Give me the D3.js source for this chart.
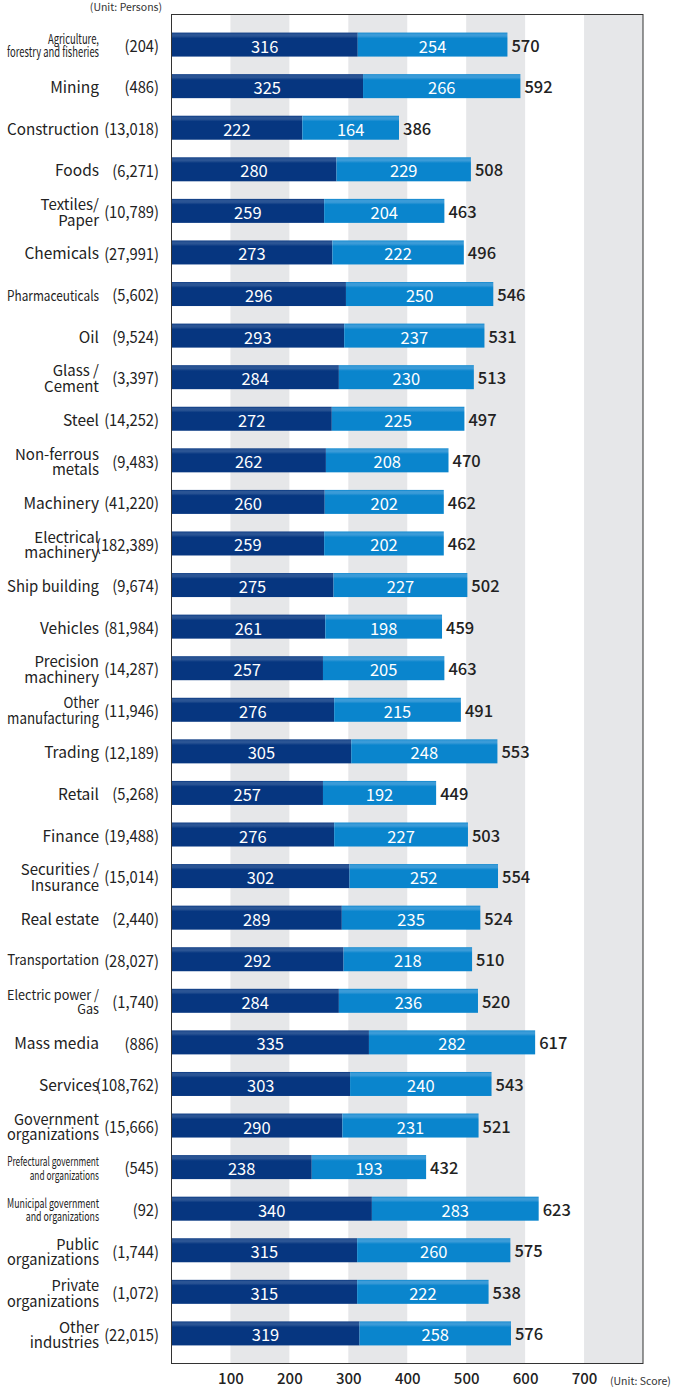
<!DOCTYPE html>
<html><head><meta charset="utf-8">
<script src="https://cdn.jsdelivr.net/npm/d3@7"></script>
<style>
html,body{margin:0;padding:0;background:#fff;}
svg{display:block;}
text{font-family:"Noto Sans CJK JP","Noto Sans",sans-serif;}
</style></head>
<body>
<svg id="chart" width="673" height="1391"></svg>
<script>
const categories = [
 ["Agriculture,","forestry and fisheries"],["Mining"],["Construction"],["Foods"],["Textiles/","Paper"],
 ["Chemicals"],["Pharmaceuticals"],["Oil"],["Glass /","Cement"],["Steel"],["Non-ferrous","metals"],
 ["Machinery"],["Electrical","machinery"],["Ship building"],["Vehicles"],["Precision","machinery"],
 ["Other","manufacturing"],["Trading"],["Retail"],["Finance"],["Securities /","Insurance"],["Real estate"],
 ["Transportation"],["Electric power /","Gas"],["Mass media"],["Services"],["Government","organizations"],
 ["Prefectural government","and organizations"],["Municipal government","and organizations"],
 ["Public","organizations"],["Private","organizations"],["Other","industries"]
];
const counts = ["(204)","(486)","(13,018)","(6,271)","(10,789)","(27,991)","(5,602)","(9,524)","(3,397)","(14,252)",
 "(9,483)","(41,220)","(182,389)","(9,674)","(81,984)","(14,287)","(11,946)","(12,189)","(5,268)","(19,488)",
 "(15,014)","(2,440)","(28,027)","(1,740)","(886)","(108,762)","(15,666)","(545)","(92)","(1,744)","(1,072)","(22,015)"];
const series1 = [316,325,222,280,259,273,296,293,284,272,262,260,259,275,261,257,276,305,257,276,302,289,292,284,335,303,290,238,340,315,315,319];
const series2 = [254,266,164,229,204,222,250,237,230,225,208,202,202,227,198,205,215,248,192,227,252,235,218,236,282,240,231,193,283,260,222,258];
const totals  = [570,592,386,508,463,496,546,531,513,497,470,462,462,502,459,463,491,553,449,503,554,524,510,520,617,543,521,432,623,575,538,576];
const tickValues = [100,200,300,400,500,600,700];
const bandStarts = [100,300,500,700];
// condensed (small-type) labels: index -> font size
const condensed = {0:13.5, 6:14.5, 22:14.5, 23:13.5, 27:12.5, 28:13};

const svg = d3.select("#chart");
const x = d3.scaleLinear().domain([0,800]).range([171.5,643]);
const idx = d3.range(categories.length);
const y = d3.scaleBand().domain(idx).range([14,1364]).paddingInner(0.4228).paddingOuter(0.447);

const defs = svg.append("defs");
function grad(id, top, base){
  const g = defs.append("linearGradient").attr("id",id).attr("x1",0).attr("y1",0).attr("x2",0).attr("y2",1);
  g.append("stop").attr("offset","0%").attr("stop-color",base);
  g.append("stop").attr("offset","6%").attr("stop-color",top);
  g.append("stop").attr("offset","14%").attr("stop-color",top);
  g.append("stop").attr("offset","24%").attr("stop-color",base);
  g.append("stop").attr("offset","100%").attr("stop-color",base);
}
grad("gDark","#2a5494","#063680");
grad("gLight","#3a9bd8","#0a85cd");

// gray bands
svg.append("g").selectAll("rect").data(bandStarts).join("rect")
  .attr("x",d=>x(d)).attr("width",d=>x(d+100)-x(d))
  .attr("y",14).attr("height",1364-14).attr("fill","#e6e7e9");

// bars
const bars = svg.append("g");
bars.selectAll(".s1").data(idx).join("rect").attr("class","s1")
  .attr("x",x(0)).attr("width",i=>x(series1[i])-x(0))
  .attr("y",i=>y(i)).attr("height",y.bandwidth()).attr("fill","url(#gDark)");
bars.selectAll(".s2").data(idx).join("rect").attr("class","s2")
  .attr("x",i=>x(series1[i])).attr("width",i=>x(totals[i])-x(series1[i]))
  .attr("y",i=>y(i)).attr("height",y.bandwidth()).attr("fill","url(#gLight)");

const cy = i => y(i)+y.bandwidth()/2;
const lab = svg.append("g").attr("font-size",16.5).attr("dominant-baseline","central");
lab.selectAll(".v1").data(idx).join("text")
  .attr("x",i=>(x(0)+x(series1[i]))/2).attr("y",i=>cy(i)+1).attr("text-anchor","middle")
  .attr("fill","#fff").text(i=>series1[i]);
lab.selectAll(".v2").data(idx).join("text")
  .attr("x",i=>(x(series1[i])+x(totals[i]))/2).attr("y",i=>cy(i)+1).attr("text-anchor","middle")
  .attr("fill","#fff").text(i=>series2[i]);
lab.selectAll(".vt").data(idx).join("text")
  .attr("x",i=>x(totals[i])+4).attr("y",i=>cy(i)).attr("text-anchor","start")
  .attr("fill","#222").attr("font-weight",500).text(i=>totals[i]);

// category labels
const LX = 99, MAXW = 92;
const cat = svg.append("g").attr("fill","#222");
idx.forEach(i=>{
  const lines = categories[i];
  const c = condensed[i];
  const fs = c ? c : (lines.length > 1 ? 15 : 15.5);
  const lh = c ? 13.5 : 15.5;
  const t = cat.append("text").attr("text-anchor","end").attr("font-size",fs)
    .attr("dominant-baseline","central");
  lines.forEach((ln,k)=>{
    t.append("tspan").attr("x",LX).attr("y",cy(i) + (k-(lines.length-1)/2)*lh).text(ln);
  });
  let w = 0;
  t.selectAll("tspan").each(function(){ w = Math.max(w, this.getComputedTextLength()); });
  let s = c ? MAXW / w : Math.min(1, MAXW / w);
  if (s !== 1) t.attr("transform",`translate(${LX},0) scale(${s},1) translate(${-LX},0)`);
});
// counts
svg.append("g").selectAll("text").data(idx).join("text")
  .attr("x",159).attr("y",i=>cy(i)).attr("text-anchor","end").attr("dominant-baseline","central")
  .attr("font-size",16).attr("fill","#222")
  .attr("transform","translate(159,0) scale(0.92,1) translate(-159,0)")
  .text(i=>counts[i]);

// frame
svg.append("rect").attr("x",171.5).attr("y",14.5).attr("width",x(800)-171.5).attr("height",1349)
  .attr("fill","none").attr("stroke","#333").attr("stroke-width",1);

// x axis
const axis = d3.axisBottom(x).tickValues(tickValues).tickSize(0).tickPadding(0);
const ag = svg.append("g").attr("transform","translate(0,1373)").call(axis);
ag.select(".domain").remove();
ag.selectAll("text").attr("font-size",15).attr("fill","#222").attr("font-weight",500)
  .attr("font-family",'"Noto Sans CJK JP","Noto Sans",sans-serif');

svg.append("text").attr("x",162).attr("y",11).attr("text-anchor","end").attr("font-size",10.5).attr("fill","#333").text("(Unit: Persons)");
svg.append("text").attr("x",610).attr("y",1385).attr("text-anchor","start").attr("font-size",10.5).attr("fill","#333").text("(Unit: Score)");
</script>
</body></html>
